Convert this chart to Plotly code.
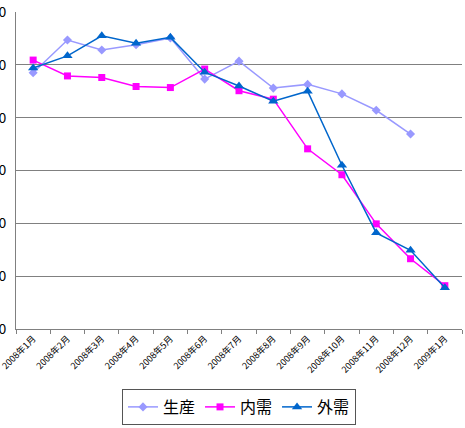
import plotly.graph_objects as go

months = ["2008年1月", "2008年2月", "2008年3月", "2008年4月", "2008年5月", "2008年6月",
          "2008年7月", "2008年8月", "2008年9月", "2008年10月", "2008年11月", "2008年12月", "2009年1月"]
seisan = [108.5, 114.7, 112.8, 113.8, 115.1, 107.3, 110.7, 105.6, 106.3, 104.5, 101.4, 96.9, None]
naiju = [110.9, 107.9, 107.6, 105.9, 105.7, 109.2, 105.1, 103.5, 94.1, 89.2, 79.9, 73.3, 68.2]
gaiju = [109.4, 111.7, 115.5, 114.1, 115.2, 108.6, 106.0, 103.1, 105.0, 91.0, 78.2, 74.9, 67.8]

font = "Noto Sans CJK JP, sans-serif"
fig = go.Figure()
fig.add_trace(go.Scatter(x=months, y=seisan, name="生産", mode="lines+markers",
                         line=dict(color="#9999FF", width=1.5),
                         marker=dict(symbol="diamond", size=7, color="#9999FF")))
fig.add_trace(go.Scatter(x=months, y=naiju, name="内需", mode="lines+markers",
                         line=dict(color="#FF00FF", width=1.5),
                         marker=dict(symbol="square", size=7, color="#FF00FF")))
fig.add_trace(go.Scatter(x=months, y=gaiju, name="外需", mode="lines+markers",
                         line=dict(color="#0066CC", width=1.5),
                         marker=dict(symbol="triangle-up", size=9, color="#0066CC")))

fig.update_layout(
    width=465, height=428,
    margin=dict(l=16, r=3, t=12, b=99),
    paper_bgcolor="white", plot_bgcolor="white",
    font=dict(family=font, color="black"),
    showlegend=True,
    legend=dict(orientation="h", x=0.5, xanchor="center", y=-0.246, yanchor="middle",
                bordercolor="#555555", borderwidth=1, font=dict(size=16, family=font),
                itemwidth=30),
)
fig.update_xaxes(type="category", tickangle=-45, tickfont=dict(size=9, family=font),
                 showline=True, linecolor="#808080", linewidth=1, automargin=False,
                 ticks="outside", tickson="boundaries", ticklen=4, tickcolor="#808080",
                 showgrid=False, range=[-0.5, 12.5])
fig.update_yaxes(range=[60, 120], dtick=10, showgrid=True, gridcolor="#808080", gridwidth=1,
                 showline=True, linecolor="#808080", linewidth=1, automargin=False,
                 tickfont=dict(size=14, family=font), zeroline=False, ticks="",
                 ticklabelstandoff=6)
fig.write_html("out.html")
